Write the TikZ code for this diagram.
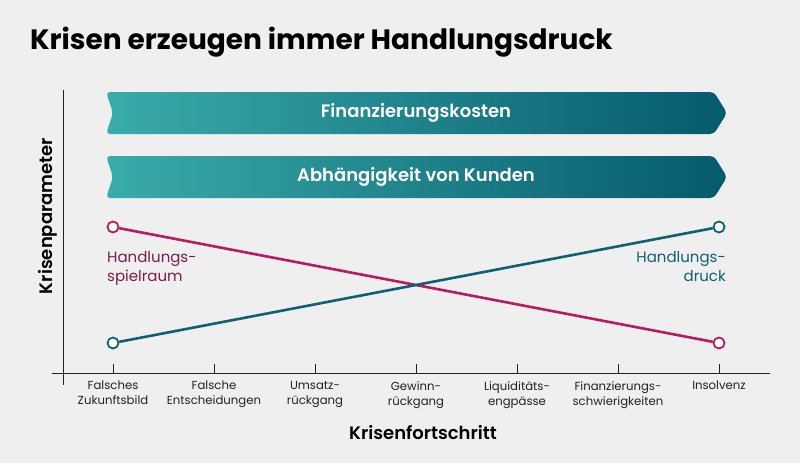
\documentclass[tikz,border=0pt]{standalone}
\usepackage{fontspec}
\setmainfont{Poppins}
\newfontfamily\psemi{Poppins SemiBold}
\newfontfamily\pbold{Poppins Bold}
\definecolor{bg}{HTML}{EFEFEF}
\definecolor{tealL}{HTML}{3AABAB}
\definecolor{tealR}{HTML}{055A6B}
\definecolor{teal}{HTML}{0E6170}
\definecolor{mag}{HTML}{B81C5C}
\definecolor{magtxt}{HTML}{7B1B4C}
\definecolor{axis}{HTML}{222222}
\begin{document}
\begin{tikzpicture}[x=1pt,y=-1pt,
  ticklab/.style={font=\fontsize{11.7}{15}\selectfont, text=axis, align=center, anchor=north, inner sep=0pt},
  bandtxt/.style={font=\psemi\fontsize{18}{21}\selectfont, text=white, inner sep=0pt},
  pt/.style={circle, draw=#1, fill=white, line width=1.8pt, minimum size=11pt, inner sep=0pt},
  curve/.style={line width=2.6pt, draw=#1},
  axisline/.style={line width=1pt, draw=axis},
  axtitle/.style={font=\psemi\fontsize{18}{21}\selectfont, text=black, inner sep=0pt}]
\useasboundingbox[fill=bg] (0,0) rectangle (800,463);
% title
\node[anchor=base west, inner sep=0pt, font=\pbold\fontsize{28}{32}\selectfont] (title) at (30,49) {Krisen erzeugen immer Handlungsdruck};
% bands
\foreach \y/\t/\n in {92/Finanzierungskosten/bandA, 156/Abhängigkeit von Kunden/bandB}{
  \shade[left color=tealL, right color=tealR, rounded corners=4pt]
    (106,\y) -- (714,\y) -- (727,\y+21) -- (714,\y+42) -- (106,\y+42) -- (113,\y+21) -- cycle;
  \node[bandtxt] (\n) at (416,\y+21) {\t};
}
% axes
\coordinate (ytop) at (63,90);
\coordinate (ybot) at (63,385);
\coordinate (xl) at (52,373);
\coordinate (xr) at (770,373);
\draw[axisline] (ytop) -- (ybot);
\draw[axisline] (xl) -- (xr);
\foreach \i/\a/\b in {0/Falsches/Zukunftsbild,1/Falsche/Entscheidungen,2/Umsatz-/rückgang,3/Gewinn-/rückgang,4/Liquiditäts-/engpässe,5/Finanzierungs-/schwierigkeiten,6/Insolvenz/{}}{
  \coordinate (t\i) at (113+101*\i,373);
  \draw[axisline] (t\i) -- ++(0,-9);
  \node[ticklab] (lab\i) at (113+101*\i,381) {\a\\\b};
}
\node[axtitle] (xtitle) at (423,433) {Krisenfortschritt};
\node[axtitle, rotate=90] (ytitle) at (48,216) {Krisenparameter};
% curves
\node[pt=mag] (m1) at (113,227) {};
\node[pt=mag] (m2) at (719,343) {};
\node[pt=teal] (c1) at (113,343) {};
\node[pt=teal] (c2) at (719,227) {};
\draw[curve=mag] (m1) -- (m2);
\draw[curve=teal] (c1) -- (c2);
\node[font=\fontsize{15}{19.5}\selectfont, text=magtxt, align=left, anchor=north west, inner sep=0pt] (lspiel) at (107,251) {Handlungs-\\spielraum};
\node[font=\fontsize{15}{19.5}\selectfont, text=teal, align=right, anchor=north east, inner sep=0pt] (ldruck) at (726,251) {Handlungs-\\druck};
\end{tikzpicture}
\end{document}
